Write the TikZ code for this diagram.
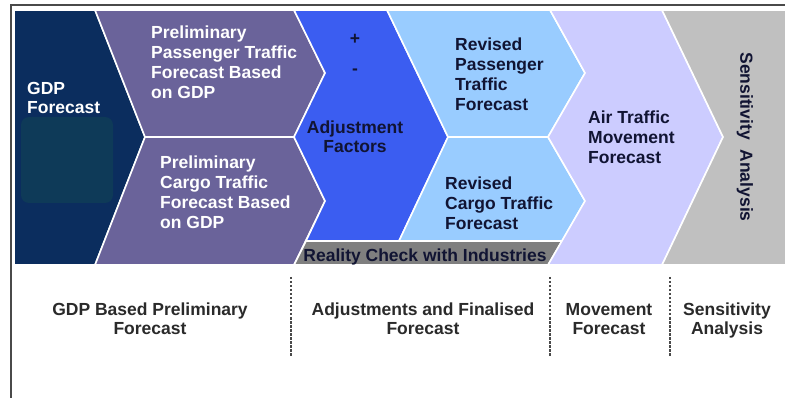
\documentclass[tikz,border=0pt]{standalone}
\usepackage{fontspec}
\setmainfont{Liberation Sans}
\definecolor{navy}{HTML}{0B2D5E}
\definecolor{tealbox}{HTML}{0E3A58}
\definecolor{purp}{HTML}{6A639A}
\definecolor{bluec}{HTML}{3B5DF1}
\definecolor{lblue}{HTML}{99CCFF}
\definecolor{lav}{HTML}{CCCCFF}
\definecolor{grayc}{HTML}{C0C0C0}
\definecolor{barc}{HTML}{7F7F7F}
\definecolor{txtdark}{HTML}{111433}
\definecolor{btm}{HTML}{2A2A2A}
\definecolor{framec}{HTML}{4A4A4A}
\begin{document}
\begin{tikzpicture}[x=1pt,y=-1pt,
  blk/.style={draw=white,line width=1.6pt,line join=miter},
  wtxt/.style={text=white,font=\bfseries\fontsize{17.5}{20}\selectfont,align=left,anchor=north west,inner sep=0pt},
  dtxt/.style={wtxt,text=txtdark},
  btxt/.style={font=\bfseries\fontsize{17.5}{19}\selectfont,text=btm,align=center,anchor=north,inner sep=0pt},
  sepline/.style={draw=framec,line width=1.4pt,dash pattern=on 2.5pt off 1.5pt}]
\useasboundingbox (0,0) rectangle (785,398);
\fill[white] (0,0) rectangle (785,398);
% frame
\draw[framec,line width=2pt] (11,398) -- (11,5) -- (786,5);
% GDP block
\path[blk,fill=navy] (14,10) -- (95,10) -- (145,137) -- (95,265) -- (14,265) -- cycle;
\fill[tealbox,rounded corners=8pt] (21,117) rectangle (113,203);
% purple blocks
\path[blk,fill=purp] (95,10) -- (294,10) -- (325,73) -- (294,137) -- (145,137) -- cycle;
\path[blk,fill=purp] (145,137) -- (294,137) -- (325,201) -- (294,265) -- (95,265) -- cycle;
% blue adjustment block
\path[blk,fill=bluec] (294,10) -- (387,10) -- (448,137) -- (399,241) -- (306,241) -- (325,201) -- (294,137) -- (325,73) -- cycle;
% light blue blocks
\path[blk,fill=lblue] (387,10) -- (550,10) -- (585,73) -- (548,137) -- (448,137) -- cycle;
\path[blk,fill=lblue] (448,137) -- (548,137) -- (585,201) -- (562,241) -- (399,241) -- cycle;
% reality bar
\path[blk,fill=barc] (306,241) -- (562,241) -- (548,265) -- (294,265) -- cycle;
% lavender
\path[blk,fill=lav] (550,10) -- (662,10) -- (723,137) -- (662,265) -- (548,265) -- (585,201) -- (548,137) -- (585,73) -- cycle;
% gray
\path[blk,fill=grayc] (662,10) -- (790,10) -- (790,265) -- (662,265) -- (723,137) -- cycle;
% texts
\node[wtxt,align=left] (gdp) at (27,82.5) {GDP\\[-1pt]Forecast};
\node[wtxt] (ppt) at (151,25.5) {Preliminary\\Passenger Traffic\\Forecast Based\\on GDP};
\node[wtxt] (pct) at (160,155.5) {Preliminary\\Cargo Traffic\\Forecast Based\\on GDP};
\node[dtxt,anchor=center] (plus) at (355,39) {+};
\node[dtxt,anchor=center] (minus) at (355,72) {-};
\node[dtxt,anchor=north,align=center] (adj) at (355,120.5) {Adjustment\\[-1pt]Factors};
\node[dtxt] (rpt) at (455,37.5) {Revised\\Passenger\\Traffic\\Forecast};
\node[dtxt] (rct) at (445,176.5) {Revised\\Cargo Traffic\\Forecast};
\node[dtxt] (atm) at (588,110.5) {Air Traffic\\Movement\\Forecast};
\node[dtxt,anchor=base] (rc) at (425,261.5) {Reality Check with Industries};
\node[dtxt,anchor=center,rotate=-90] (sa) at (745,137) {Sensitivity\ \ Analysis};
% bottom labels
\node[btxt] (b1) at (150,303) {GDP Based Preliminary\\Forecast};
\node[btxt] (b2) at (423,303) {Adjustments and Finalised\\Forecast};
\node[btxt] (b3) at (609,303) {Movement\\Forecast};
\node[btxt] (b4) at (727,303) {Sensitivity\\Analysis};
\coordinate (d1t) at (291,277); \coordinate (d1b) at (291,357);
\coordinate (d2t) at (550,277); \coordinate (d2b) at (550,357);
\coordinate (d3t) at (670,277); \coordinate (d3b) at (670,357);
\draw[sepline] (d1t) -- (d1b);
\draw[sepline] (d2t) -- (d2b);
\draw[sepline] (d3t) -- (d3b);
\end{tikzpicture}
\end{document}
